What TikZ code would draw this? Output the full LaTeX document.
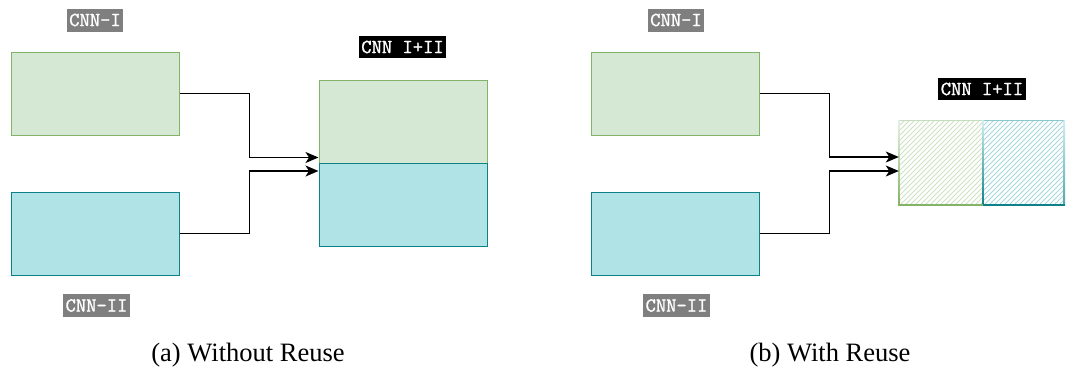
\documentclass[tikz,border=0pt]{standalone}
\usepackage{fontspec}
\setmainfont{Liberation Serif}
\newfontfamily\labfont[AutoFakeBold=1.3]{Latin Modern Mono}
\usetikzlibrary{arrows.meta}
\definecolor{gfill}{HTML}{D5E8D4}
\definecolor{gline}{HTML}{82B366}
\definecolor{cfill}{HTML}{B0E3E6}
\definecolor{cline}{HTML}{0E8088}
\definecolor{labgray}{HTML}{7F7F7F}
\tikzset{
  gbox/.style={draw=gline, fill=gfill, line width=1pt, minimum width=168pt, minimum height=83pt, inner sep=0pt},
  cbox/.style={draw=cline, fill=cfill, line width=1pt, minimum width=168pt, minimum height=83pt, inner sep=0pt},
  lab/.style={fill=labgray, text=white, font=\labfont\bfseries\fontsize{20}{20}\selectfont, inner xsep=2.5pt, inner ysep=0pt, minimum height=23pt},
  blab/.style={lab, fill=black, minimum height=22pt},
  captext/.style={font=\fontsize{26.5}{28}\selectfont, inner sep=0pt},
  arr/.style={line width=1.4pt, -{Stealth[length=13pt,width=11pt,inset=3.5pt]}},
  hbox/.style={minimum width=84pt, minimum height=84pt, inner sep=0pt},
}
\begin{document}
\begin{tikzpicture}[x=1pt,y=-1pt]
\useasboundingbox (0,0) rectangle (1066,372);
% ---- (a) ----
\node[gbox] (A1) at (95,93.5) {};
\node[cbox] (B1) at (95,233.5) {};
\node[gbox] (T1) at (403,121.5) {};
\node[cbox] (U1) at (403,205) {};
\node[lab] (LA1) at (95,20) {CNN-I};
\node[lab] (LB1) at (96.5,305.5) {CNN-II};
\node[blab] (LC1) at (402.5,47) {CNN I+II};
\draw[arr] (A1.east) -- ++(70,0) |- ([yshift=6pt]T1.south west);
\draw[arr] (B1.east) -- ++(70,0) |- ([yshift=-8pt]U1.north west);
\node[captext] (CA) at (248,355) {(a) Without Reuse};
% ---- (b) ----
\node[gbox] (A2) at (675,93.5) {};
\node[cbox] (B2) at (675,233.5) {};
\node[lab] (LA2) at (676,20) {CNN-I};
\node[lab] (LB2) at (676.5,305.5) {CNN-II};
\node[blab] (LC2) at (982,89) {CNN I+II};
\node[hbox] (HG) at (941,163) {};
\node[hbox, minimum width=82pt] (HC) at (1024,163) {};
% hatching
\begin{scope}
  \clip (HG.south west) rectangle (HG.north east);
  \foreach \i in {-90,-85,...,90} {
    \draw[gline!40, line width=0.9pt] (899+\i,206) -- (899+\i+90,116);
  }
\end{scope}
\begin{scope}
  \clip (HC.south west) rectangle (HC.north east);
  \foreach \i in {-90,-85,...,90} {
    \draw[cfill!75!cline!75, line width=0.9pt] (983+\i,206) -- (983+\i+90,116);
  }
\end{scope}
% borders
\draw[gfill!80!gline, line width=1.2pt] (HG.north west) -- (HG.north east);
\draw[cfill!60!cline!80, line width=1.2pt] (HC.north west) -- (HC.north east);
\shade[top color=gfill!60, bottom color=gline] ([xshift=-0.8pt]HG.north west) rectangle ([xshift=0.8pt]HG.south west);
\shade[top color=cfill!60, bottom color=cline] ([xshift=-0.8pt]HC.north west) rectangle ([xshift=0.8pt]HC.south west);
\shade[top color=cfill!60, bottom color=cline!70] ([xshift=-1.5pt]HC.north east) rectangle (HC.south east);
\draw[gline, line width=1.5pt] (HG.south west) -- (HG.south east);
\draw[cline, line width=1.5pt] (HC.south west) -- (HC.south east);
\draw[arr] (A2.east) -- ++(70,0) |- ([yshift=6pt]HG.west);
\draw[arr] (B2.east) -- ++(70,0) |- ([yshift=-8pt]HG.west);
\node[captext] (CB) at (830,355) {(b) With Reuse};
\end{tikzpicture}
\end{document}
